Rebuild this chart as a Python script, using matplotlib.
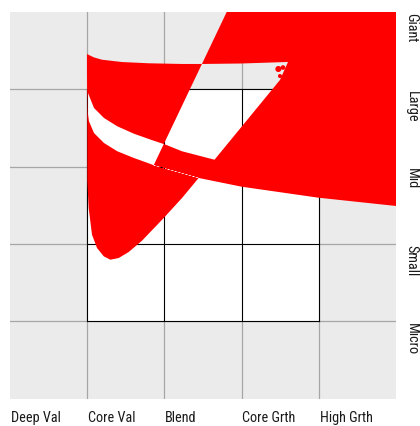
import matplotlib
matplotlib.use("Agg")
import matplotlib.pyplot as plt
from matplotlib.path import Path
from matplotlib.patches import PathPatch, Rectangle, Circle
from matplotlib import font_manager

# ---- data (style-box coordinates: x = style column, y = size row) ----
style_labels = ["Deep Val", "Core Val", "Blend", "Core Grth", "High Grth"]
style_pos = [0, 1, 2, 3, 4]
size_labels = ["Giant", "Large", "Mid", "Small", "Micro"]
size_pos = [5, 4, 3, 2, 1]

# ownership zone outline: top edge (left->right), right branch (top->bottom), left branch (bottom->top)
zone_top_x = [0.997, 1.084, 1.192, 1.451, 1.797, 2.228, 2.487, 2.992, 3.601]
zone_top_y = [4.457, 4.414, 4.383, 4.353, 4.337, 4.328, 4.328, 4.334, 4.354]
zone_right_x = [3.497, 3.390, 2.649, 2.444, 2.228, 1.991, 1.710, 1.538, 1.408, 1.299]
zone_right_y = [4.121, 3.991, 3.090, 2.854, 2.595, 2.336, 2.043, 1.897, 1.819, 1.797]
zone_left_x = [1.214, 1.127, 1.062, 1.019, 1.001, 1.001, 1.000, 0.997]
zone_left_y = [1.841, 1.949, 2.121, 2.466, 2.828, 3.345, 3.862, 4.250]

# inner band: upper edge (left->right), lower edge (right->left)
band_upper_x = [1.010, 1.088, 1.218, 1.390, 1.606, 1.823, 2.017, 2.228, 2.649]
band_upper_y = [3.953, 3.759, 3.629, 3.522, 3.426, 3.349, 3.284, 3.199, 3.090]
band_lower_x = [1.823, 1.606, 1.390, 1.218, 1.088, 1.023, 1.008, 1.005]
band_lower_y = [3.034, 3.112, 3.199, 3.306, 3.435, 3.587, 3.694, 3.860]

# drift line (lower edge of the right-hand zone)
drift_x = [1.861, 2.444, 3.001, 3.994, 5.000]
drift_y = [3.018, 2.854, 2.741, 2.599, 2.492]

# slanted edge
slant_x = [1.861, 2.807]
slant_y = [3.018, 5.000]

# small blobs
blob_x = [3.476, 3.536, 3.497]
blob_y = [4.263, 4.282, 4.172]
blob_r = [0.039, 0.030, 0.026]

# ---- styling ----
avail = {f.name for f in font_manager.fontManager.ttflist}
label_family, label_size = ["Liberation Sans", "DejaVu Sans"], 9.3
for cand, size in [("Liberation Sans Narrow", 10.6), ("Roboto Condensed", 10.3),
                   ("Open Sans Condensed", 10.0)]:
    if cand in avail:
        label_family, label_size = [cand, "DejaVu Sans"], size
        break

RED = "#ff0000"
BG = "#ebebeb"
GRID = "#a6a6a6"

fig = plt.figure(figsize=(4.2, 4.26), dpi=100)
ax = fig.add_axes([10 / 420, (426 - 398.7) / 426, 386 / 420, 386.7 / 426])
ax.set_xlim(0, 5)
ax.set_ylim(0, 5)
ax.set_facecolor(BG)
for s in ax.spines.values():
    s.set_visible(False)
ax.set_xticks([])
ax.set_yticks([])

# gray grid lines
for v in [1, 2, 3, 4]:
    ax.axvline(v, color=GRID, lw=0.9, zorder=0.5)
    ax.axhline(v, color=GRID, lw=0.9, zorder=0.5)

# white 3x3 box with black lines
ax.add_patch(Rectangle((1, 1), 3, 3, facecolor="white", edgecolor="none", zorder=1))
for v in [1, 2, 3, 4]:
    ax.plot([v, v], [1, 4], color="black", lw=0.8, zorder=2)
    ax.plot([1, 4], [v, v], color="black", lw=0.8, zorder=2)

# build compound path (outer loop counter-clockwise, inner loops clockwise)
verts, codes = [], []


def add_loop(pts):
    verts.extend(pts + [pts[0]])
    codes.extend([Path.MOVETO] + [Path.LINETO] * (len(pts) - 1) + [Path.CLOSEPOLY])


outer = (list(zip(zone_top_x, zone_top_y)) + list(zip(zone_right_x, zone_right_y))
         + list(zip(zone_left_x, zone_left_y)))
add_loop(outer[::-1])

cross = (zone_right_x[3], zone_right_y[3])
band = (list(zip(band_upper_x, band_upper_y)) + [cross]
        + [(drift_x[0], drift_y[0])] + list(zip(band_lower_x, band_lower_y)))
add_loop(band)

drift = list(zip(drift_x, drift_y))
right_zone = ([(slant_x[0], slant_y[0]), (slant_x[1], slant_y[1]), (slant_x[1], 5.6),
               (5.6, 5.6), (5.6, drift_y[-1])] + drift[::-1][:-1])
add_loop(right_zone)

ax.add_patch(PathPatch(Path(verts, codes), facecolor=RED, edgecolor="none", lw=0, zorder=3))
for bx, by, br in zip(blob_x, blob_y, blob_r):
    ax.add_patch(Circle((bx, by), br, facecolor=RED, edgecolor="none", zorder=3))

# labels
for lab, p in zip(style_labels, style_pos):
    ax.text(p + 0.01, -0.297, lab, ha="left", va="baseline", family=label_family,
            fontsize=label_size, color="#1a1a1a", clip_on=False)
for lab, p in zip(size_labels, size_pos):
    ax.text(5.149, p - 0.015, lab, ha="left", va="baseline", rotation=-90,
            rotation_mode="anchor", family=label_family, fontsize=label_size,
            color="#1a1a1a", clip_on=False)

fig.savefig("out.png", dpi=100)
